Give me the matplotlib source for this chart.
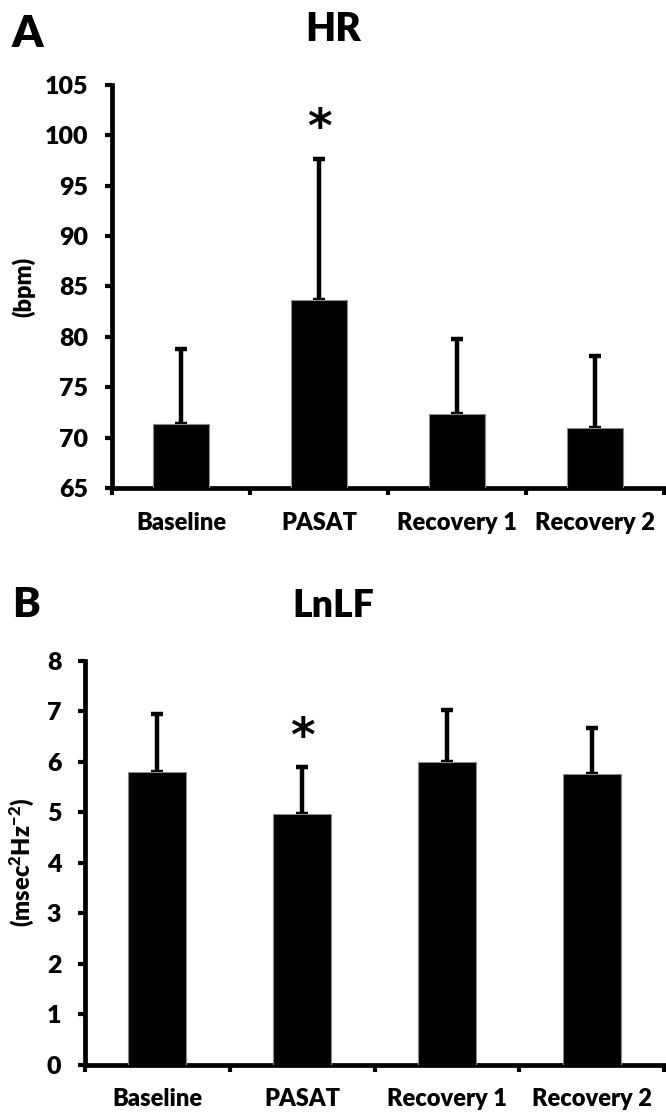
import matplotlib
matplotlib.use("Agg")
import matplotlib.pyplot as plt
import numpy as np

plt.rcParams.update({
    "font.family": ["Lato", "DejaVu Sans"],
    "font.weight": "heavy",
    "mathtext.fontset": "custom",
    "mathtext.rm": "Lato:heavy",
    "mathtext.bf": "Lato:heavy",
    "mathtext.it": "Lato:heavy",
})

conditions = ["Baseline", "PASAT", "Recovery 1", "Recovery 2"]

hr_mean = [71.4, 83.7, 72.3, 71.0]
hr_sd = [7.4, 14.0, 7.5, 7.1]

lnlf_mean = [5.80, 4.97, 5.99, 5.75]
lnlf_sd = [1.15, 0.92, 1.03, 0.92]

starred = [1]  # PASAT differs from baseline


def bar_panel(ax, means, sds, ylim, ystep, ylabel):
    xs = np.arange(len(conditions))
    ax.bar(xs, means, width=0.40, color="black", edgecolor="#8a8a8a",
           linewidth=0.8, bottom=0, zorder=3)
    ax.errorbar(xs, means, yerr=[np.zeros(len(sds)), sds], fmt="none",
                ecolor="black", elinewidth=3.2, capsize=4.2, capthick=3.2, zorder=2)
    for i in starred:
        ax.annotate("*", xy=(xs[i], means[i] + sds[i]), xytext=(0, 21),
                    textcoords="offset points", ha="center", va="center",
                    fontsize=34, fontweight="bold", family="DejaVu Sans")

    ax.set_xlim(-0.5, len(conditions) - 0.5)
    ax.set_ylim(*ylim)
    ax.set_yticks(np.arange(ylim[0], ylim[1] + 0.01, ystep))
    ax.set_xticks(np.arange(-0.5, len(conditions)))
    ax.set_xticklabels([])
    ax.set_xticks(xs, minor=True)
    ax.set_xticklabels(conditions, minor=True, fontweight="heavy")
    ax.tick_params(axis="x", which="minor", length=0, pad=17, labelsize=17)
    ax.tick_params(axis="x", which="major", direction="out", length=5, width=3)
    ax.tick_params(axis="y", direction="out", length=5, width=3, pad=12, labelsize=18)
    for lab in ax.get_yticklabels():
        lab.set_fontweight("heavy")
    for s in ["top", "right"]:
        ax.spines[s].set_visible(False)
    for s in ["left", "bottom"]:
        ax.spines[s].set_linewidth(3.4)
    ax.set_ylabel(ylabel, fontsize=17, fontweight="heavy", labelpad=0)


fig = plt.figure(figsize=(6.66, 11.12), dpi=100)

ax1 = fig.add_axes([112 / 666, 1 - 488 / 1112, 552 / 666, 403 / 1112])
bar_panel(ax1, hr_mean, hr_sd, (65, 105), 5, "(bpm)")
ax1.yaxis.set_label_coords(-0.139, 0.5)

ax2 = fig.add_axes([85 / 666, 1 - 1064.5 / 1112, 579 / 666, 403.5 / 1112])
bar_panel(ax2, lnlf_mean, lnlf_sd, (0, 8), 1, r"(msec$^{2}$Hz$^{-2}$)")
ax2.yaxis.set_label_coords(-0.084, 0.5)

fig.text(333 / 666, 1 - 41 / 1112, "HR", ha="center", va="baseline", fontsize=28, fontweight="heavy")
fig.text(333 / 666, 1 - 617 / 1112, "LnLF", ha="center", va="baseline", fontsize=27, fontweight="heavy")
fig.text(12 / 666, 1 - 47 / 1112, "A", ha="left", va="baseline", fontsize=32, fontweight="heavy")
fig.text(12 / 666, 1 - 617 / 1112, "B", ha="left", va="baseline", fontsize=30, fontweight="heavy")

fig.savefig("out.png", dpi=100)
